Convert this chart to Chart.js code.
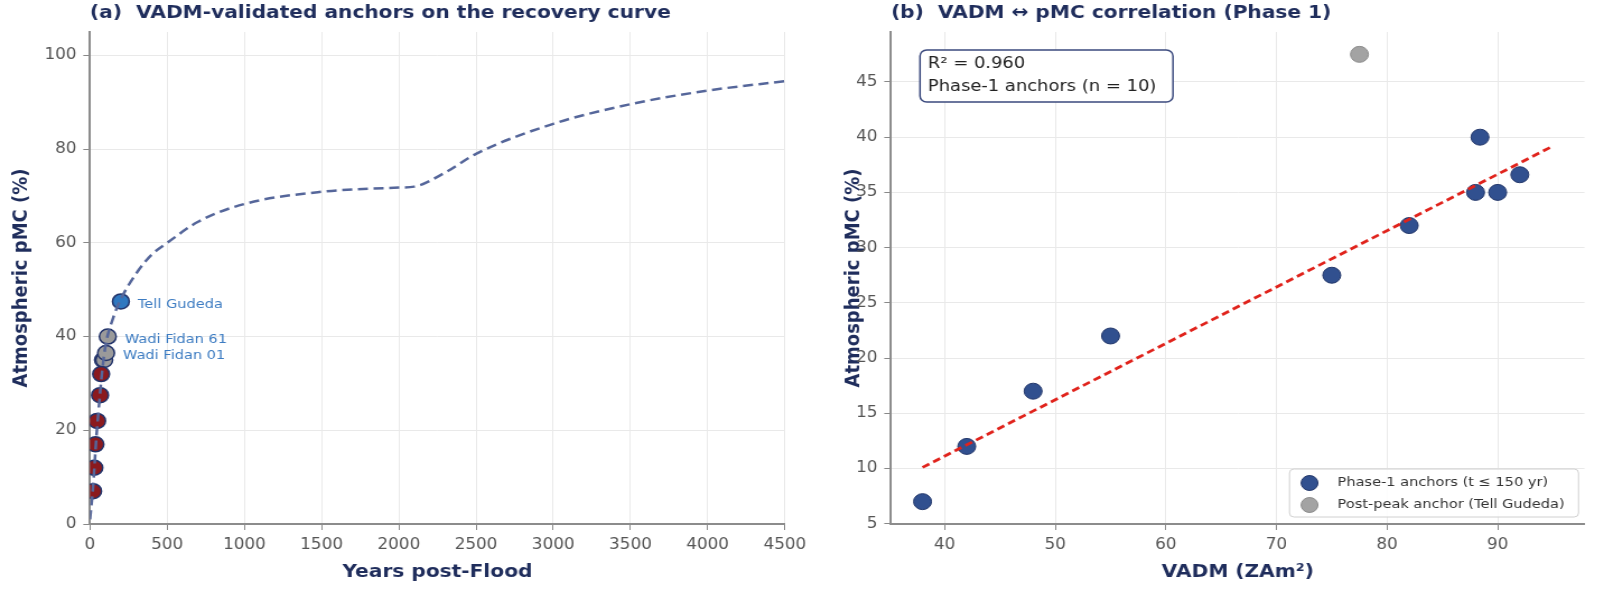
<!DOCTYPE html>
<html>
<head>
<meta charset="utf-8">
<script src="https://cdn.jsdelivr.net/npm/chart.js@4.4.1/dist/chart.umd.min.js"></script>
<style>
  html, body { margin: 0; padding: 0; background: #fff; overflow: hidden; }
  #wrap { position: relative; width: 1600px; height: 596px; }
  /* the reference is a little wider than tall, so each panel is drawn narrower and stretched */
  canvas { position: absolute; top: 0; transform-origin: 0 0; transform: scaleX(1.12); }
  #left { left: 0; }
  #right { left: 820px; }
</style>
</head>
<body>
<div id="wrap">
  <canvas id="left" width="732" height="596"></canvas>
  <canvas id="right" width="696" height="596"></canvas>
</div>
<script>
const K = 1.12; // horizontal stretch

// ---- (a) recovery curve and anchors ----
const curveYears = [0, 20, 40, 60, 80, 100, 150, 200, 300, 400, 500, 700, 1000, 1500, 2000, 2100, 2300, 2500, 3000, 3500, 4000, 4500];
const curvePmc   = [1, 8, 18, 26, 33, 38, 44, 48, 53.5, 57.5, 60, 64.5, 68.3, 70.9, 71.8, 72, 75, 79, 85.4, 89.6, 92.5, 94.5];

const redYears  = [20, 28, 35, 46, 65, 72];
const redPmc    = [7, 12, 17, 22, 27.5, 32];
const greyYears = [84, 92, 104, 115];
const greyPmc   = [35, 35, 36.5, 40];
const tellYears = [200];
const tellPmc   = [47.5];

const labelNames = ['Tell Gudeda', 'Wadi Fidan 61', 'Wadi Fidan 01'];
const labelYears = [200, 115, 104];
const labelPmc   = [47.5, 40, 36.5];

const yearTicks = [0, 500, 1000, 1500, 2000, 2500, 3000, 3500, 4000, 4500];
const pmcTicksA = [0, 20, 40, 60, 80, 100];

// ---- (b) VADM vs pMC ----
const vadm      = [38, 42, 48, 55, 75, 82, 88, 88.4, 90, 92];
const vadmPmc   = [7, 12, 17, 22, 27.5, 32, 35, 40, 35, 36.6];
const postVadm  = [77.5];
const postPmc   = [47.5];
const fitVadm   = [38, 95];
const fitPmc    = [10.1, 39.2];

const vadmTicks = [40, 50, 60, 70, 80, 90];
const pmcTicksB = [5, 10, 15, 20, 25, 30, 35, 40, 45];

const navy = '#1f2d5c';
const tickFont = { family: 'DejaVu Sans', size: 15 };
const axisTitleFont = { family: 'DejaVu Sans', size: 18, weight: 'bold', lineHeight: 1.2 };

function pts(xs, ys) {
    return xs.map((x, i) => ({ x: x, y: ys[i] }));
}

function makeAxis(min, max, ticks, title, opts) {
    return {
        type: 'linear',
        min: min,
        max: max,
        afterBuildTicks: (scale) => { scale.ticks = ticks.map(v => ({ value: v })); },
        afterFit: opts.fit,
        ticks: { font: tickFont, color: '#555', padding: 6, callback: v => String(v) },
        grid: { color: '#e9e9e9', lineWidth: 1, drawTicks: true, tickLength: 6, tickColor: '#888' },
        border: { display: true, color: '#8c8c8c', width: 2 },
        title: { display: true, text: title, color: navy, font: axisTitleFont, padding: opts.pad }
    };
}

function titlePlugin(text) {
    return {
        id: 'panelTitle',
        afterDraw(chart) {
            const ctx = chart.ctx;
            ctx.save();
            ctx.font = 'bold 18px "DejaVu Sans"';
            ctx.fillStyle = navy;
            ctx.textAlign = 'left';
            ctx.textBaseline = 'middle';
            ctx.fillText(text, chart.chartArea.left, 13);
            ctx.restore();
        }
    };
}

// point labels on panel (a)
const labelPlugin = {
    id: 'pointLabels',
    afterDatasetsDraw(chart) {
        const ctx = chart.ctx;
        const xs = chart.scales.x, ys = chart.scales.y;
        ctx.save();
        ctx.font = '13px "DejaVu Sans"';
        ctx.fillStyle = '#3d7cc2';
        ctx.textAlign = 'left';
        ctx.textBaseline = 'middle';
        labelNames.forEach((name, i) => {
            const px = xs.getPixelForValue(labelYears[i]);
            const py = ys.getPixelForValue(labelPmc[i]);
            ctx.fillText(name, px + 17 / K, py + 3);
        });
        ctx.restore();
    }
};

function roundRect(ctx, x, y, w, h, r) {
    ctx.beginPath();
    ctx.moveTo(x + r, y);
    ctx.arcTo(x + w, y, x + w, y + h, r);
    ctx.arcTo(x + w, y + h, x, y + h, r);
    ctx.arcTo(x, y + h, x, y, r);
    ctx.arcTo(x, y, x + w, y, r);
    ctx.closePath();
}

// R² box and legend on panel (b)
const statsPlugin = {
    id: 'statsBox',
    afterDraw(chart) {
        const ctx = chart.ctx;
        const ca = chart.chartArea;
        ctx.save();
        // stats box
        let bx = ca.left + 29 / K, by = ca.top + 18;
        roundRect(ctx, bx, by, 253 / K, 52, 6);
        ctx.fillStyle = '#fff';
        ctx.fill();
        ctx.strokeStyle = '#3b4a7e';
        ctx.lineWidth = 1.5;
        ctx.stroke();
        ctx.fillStyle = '#222';
        ctx.font = '16px "DejaVu Sans"';
        ctx.textBaseline = 'middle';
        ctx.textAlign = 'left';
        ctx.fillText('R² = 0.960', bx + 7, by + 14);
        ctx.fillText('Phase-1 anchors (n = 10)', bx + 7, by + 37);

        // legend
        const lw = 289 / K, lh = 48;
        const lx = ca.right - 6 / K - lw, ly = ca.bottom - 7 - lh;
        roundRect(ctx, lx, ly, lw, lh, 4);
        ctx.fillStyle = 'rgba(255,255,255,0.85)';
        ctx.fill();
        ctx.strokeStyle = '#d0d0d0';
        ctx.lineWidth = 1;
        ctx.stroke();
        const rows = [
            ['Phase-1 anchors (t ≤ 150 yr)', '#31508f', '#24386b'],
            ['Post-peak anchor (Tell Gudeda)', '#a3a3a3', '#8c8c8c']
        ];
        ctx.font = '13px "DejaVu Sans"';
        rows.forEach((r, i) => {
            const cy = ly + 14 + i * 22;
            ctx.beginPath();
            ctx.arc(lx + 20 / K, cy, 7.5, 0, Math.PI * 2);
            ctx.fillStyle = r[1];
            ctx.fill();
            ctx.strokeStyle = r[2];
            ctx.lineWidth = 1;
            ctx.stroke();
            ctx.fillStyle = '#333';
            ctx.fillText(r[0], lx + 48 / K, cy);
        });
        ctx.restore();
    }
};

const common = {
    responsive: false,
    animation: false,
    events: [],
    plugins: { legend: { display: false }, tooltip: { enabled: false } }
};

new Chart(document.getElementById('left').getContext('2d'), {
    type: 'scatter',
    data: {
        datasets: [
            {
                data: pts(curveYears, curvePmc),
                showLine: true,
                borderColor: '#55669a',
                borderWidth: 2.5,
                borderDash: [9, 5],
                cubicInterpolationMode: 'monotone',
                pointRadius: 0
            },
            {
                data: pts(redYears, redPmc),
                backgroundColor: '#8b1a1e',
                borderColor: '#22336a',
                borderWidth: 1.5,
                pointRadius: 7.5
            },
            {
                data: pts(greyYears, greyPmc),
                backgroundColor: '#9a9a9a',
                borderColor: '#22336a',
                borderWidth: 1.5,
                pointRadius: 7.5
            },
            {
                data: pts(tellYears, tellPmc),
                backgroundColor: '#2f78c0',
                borderColor: '#22336a',
                borderWidth: 1.5,
                pointRadius: 7.5
            }
        ]
    },
    options: Object.assign({}, common, {
        layout: { padding: { left: 0, right: 35 / K, top: 32, bottom: 0 } },
        scales: {
            x: makeAxis(0, 4500, yearTicks, 'Years post-Flood', { fit: s => { s.height = 72; }, pad: { bottom: 13.2 } }),
            y: makeAxis(0, 105, pmcTicksA, 'Atmospheric pMC (%)', { fit: s => { s.width = 90 / K; }, pad: { top: 8.8 } })
        }
    }),
    plugins: [titlePlugin('(a)  VADM-validated anchors on the recovery curve'), labelPlugin]
});

new Chart(document.getElementById('right').getContext('2d'), {
    type: 'scatter',
    data: {
        datasets: [
            {
                data: pts(fitVadm, fitPmc),
                showLine: true,
                borderColor: '#e0231c',
                borderWidth: 2.8,
                borderDash: [7, 4],
                pointRadius: 0
            },
            {
                data: pts(vadm, vadmPmc),
                backgroundColor: '#31508f',
                borderColor: '#24386b',
                borderWidth: 1,
                pointRadius: 8
            },
            {
                data: pts(postVadm, postPmc),
                backgroundColor: '#a3a3a3',
                borderColor: '#8c8c8c',
                borderWidth: 1,
                pointRadius: 8
            }
        ]
    },
    options: Object.assign({}, common, {
        layout: { padding: { left: 0, right: 15 / K, top: 32, bottom: 0 } },
        scales: {
            x: makeAxis(35.15, 97.85, vadmTicks, 'VADM (ZAm²)', { fit: s => { s.height = 72; }, pad: { bottom: 13.2 } }),
            y: makeAxis(4.975, 49.525, pmcTicksB, 'Atmospheric pMC (%)', { fit: s => { s.width = 71 / K; }, pad: { top: 19.6 } })
        }
    }),
    plugins: [titlePlugin('(b)  VADM ↔ pMC correlation (Phase 1)'), statsPlugin]
});
</script>
</body>
</html>
